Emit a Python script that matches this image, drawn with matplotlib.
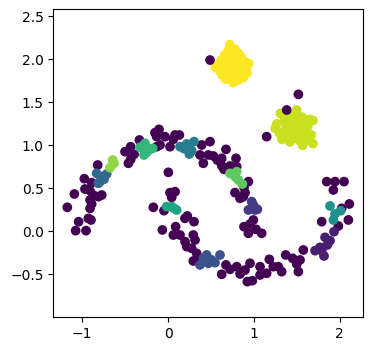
"""
Scatter of clustered moons + blobs (label -1 = noise), coloured with viridis.
Output: out.png
"""

import matplotlib
matplotlib.use("Agg")
import matplotlib.pyplot as plt
import numpy as np

# ── noise points along the moons (label -1) ──────────────────────────────────
noise_x = [
    -1.174, -1.092, -1.042, -1.077, -0.956, -0.929, -0.898, -0.909, -0.890, -0.909,
    -0.968, -0.976, -0.890, -0.909, -0.871, -0.812, -0.773, -0.820,
    -0.501, -0.462, -0.435, -0.396, -0.435, -0.334, -0.152, -0.105, -0.132, -0.093,
    -0.132, -0.035, 0.023, 0.082, 0.132, 0.062,
    0.393, 0.490, 0.373, 0.412, 0.470, 0.529, 0.575, 0.626, 0.676, 0.626,
    0.653, 0.723, 0.793, 0.801, 0.937, 0.886, 0.898, 0.781, 0.840, 0.878,
    0.995, 0.956, 0.886, 0.937, 1.092, 1.026,
    0.004, 0.023, 0.082, 0.043, -0.171, -0.047, -0.066, 0.089, 0.062, 0.140,
    0.198, 0.225, 0.303, 0.295, 0.315, 0.218, 0.276, 0.198, 0.334, 0.295, 0.354,
    0.626, 0.676, 0.723, 0.801, 0.840, 0.898, 0.956, 0.925, 0.983, 1.073,
    1.073, 1.150, 1.181, 1.228, 1.286, 1.325, 1.372, 1.454, 1.539, 1.520,
    1.578, 1.500,
    1.792, 1.850, 1.947, 2.052, 1.928, 2.025, 2.114, 2.103, 1.986,
]
noise_y = [
    0.279, 0.434, 0.112, 0.008, 0.008, 0.151, 0.132, 0.267, 0.318, 0.364,
    0.492, 0.612, 0.566, 0.473, 0.422, 0.403, 0.422, 0.771,
    0.926, 0.791, 0.837, 0.895, 0.984, 1.062, 1.147, 1.186, 1.101, 1.004,
    0.984, 1.101, 0.984, 1.120, 1.120, 1.070,
    1.004, 1.043, 0.888, 0.791, 0.888, 0.876, 0.829, 0.849, 0.953, 0.764,
    0.721, 0.760, 0.849, 0.752, 0.578, 0.512, 0.450, 0.450, 0.384, 0.403,
    0.132, 0.085, 0.054, -0.023, -0.023, 0.023,
    0.686, 0.450, 0.461, 0.395, 0.279, 0.240, 0.016, 0.054, -0.043, -0.043,
    0.151, 0.178, 0.112, -0.043, -0.101, -0.178, -0.198, -0.120, -0.256, -0.345, -0.314,
    -0.500, -0.391, -0.442, -0.411, -0.496, -0.450, -0.372, -0.585, -0.574, -0.411,
    -0.508, -0.488, -0.326, -0.411, -0.411, -0.469, -0.275, -0.314, -0.333, -0.469,
    -0.217, -0.380,
    0.112, 0.578, 0.578, 0.578, 0.481, 0.267, 0.318, 0.132, 0.062,
]

# noise points near the blobs (also label -1)
outlier_x = [0.490, 1.520, 1.384, 1.150]
outlier_y = [1.992, 1.593, 1.411, 1.101]

# ── clusters along the moons ─────────────────────────────────────────────────
c0_x = [1.714, 1.772, 1.819, 1.831, 1.889, 1.935, 1.858, 1.792]
c0_y = [-0.225, -0.186, -0.287, -0.070, -0.109, -0.004, -0.159, -0.225]
c1_x = [0.976, 0.937, 1.015, 0.995, 1.042]
c1_y = [0.345, 0.248, 0.248, 0.306, 0.256]
c2_x = [0.373, 0.451, 0.509, 0.548, 0.606, 0.470, 0.412]
c2_y = [-0.391, -0.275, -0.333, -0.364, -0.275, -0.372, -0.314]
c3_x = [-0.832, -0.773, -0.715, -0.793, -0.746, -0.812]
c3_y = [0.674, 0.636, 0.667, 0.578, 0.605, 0.558]
c4_x = [0.140, 0.218, 0.303, 0.249, 0.187, 0.276]
c4_y = [0.984, 1.016, 1.043, 0.899, 0.961, 0.938]
c5_x = [1.889, 1.947, 2.013, 1.928]
c5_y = [0.295, 0.202, 0.240, 0.132]
c6_x = [-0.016, 0.043, 0.101, 0.070]
c6_y = [0.287, 0.287, 0.248, 0.267]
c7_x = [-0.326, -0.268, -0.249, -0.280, -0.210, -0.179]
c7_y = [0.977, 1.023, 0.919, 0.888, 0.953, 0.965]
c8_x = [0.723, 0.801, 0.820, 0.867, 0.781]
c8_y = [0.674, 0.694, 0.597, 0.550, 0.636]
c9_x = [-0.645, -0.630, -0.676]
c9_y = [0.829, 0.791, 0.740]

# ── blobs ────────────────────────────────────────────────────────────────────
c10_x = [1.31, 1.50, 1.42, 1.56, 1.65, 1.69, 1.25, 1.27, 1.30, 1.33,
         1.38, 1.40, 1.44, 1.45, 1.47, 1.50, 1.52, 1.54, 1.55, 1.58,
         1.60, 1.63, 1.67, 1.69, 1.36, 1.42, 1.35, 1.48, 1.62, 1.57]
c10_y = [1.37, 1.41, 1.35, 1.33, 1.30, 1.29, 1.20, 1.25, 1.14, 1.07,
         1.22, 1.12, 1.28, 1.18, 1.08, 1.22, 1.14, 1.05, 1.26, 1.18,
         1.10, 1.22, 1.12, 1.02, 1.30, 1.04, 1.16, 1.31, 1.06, 1.00]
c11_x = [0.72, 0.70, 0.78, 0.82, 0.66, 0.74, 0.86, 0.62, 0.69, 0.78,
         0.90, 0.94, 0.58, 0.55, 0.65, 0.72, 0.80, 0.87, 0.60, 0.68,
         0.76, 0.84, 0.91, 0.63, 0.71, 0.79, 0.88, 0.92, 0.67, 0.76,
         0.82, 0.74, 0.85]
c11_y = [2.17, 2.10, 2.12, 2.07, 2.05, 2.05, 2.01, 1.99, 1.98, 1.99,
         1.97, 1.95, 1.93, 1.91, 1.92, 1.92, 1.93, 1.91, 1.87, 1.86,
         1.87, 1.86, 1.88, 1.82, 1.81, 1.80, 1.79, 1.84, 1.77, 1.73,
         1.76, 1.77, 2.03]

groups = [
    (-1, noise_x, noise_y),
    (0, c0_x, c0_y), (1, c1_x, c1_y), (2, c2_x, c2_y), (3, c3_x, c3_y),
    (4, c4_x, c4_y), (5, c5_x, c5_y), (6, c6_x, c6_y), (7, c7_x, c7_y),
    (8, c8_x, c8_y), (9, c9_x, c9_y), (10, c10_x, c10_y), (11, c11_x, c11_y),
    (-1, outlier_x, outlier_y),
]

xs, ys, labels = [], [], []
for lab, gx, gy in groups:
    xs += gx
    ys += gy
    labels += [lab] * len(gx)

fig = plt.figure(figsize=(3.73, 3.51), dpi=100)
ax = fig.add_axes([0.143, 0.096, 0.831, 0.877])
ax.scatter(np.array(xs), np.array(ys), c=np.array(labels), cmap="viridis")
ax.set_xlim(-1.337, 2.277)
ax.set_ylim(-1.0, 2.58)
ax.set_xticks([-1, 0, 1, 2])
ax.set_yticks([-0.5, 0.0, 0.5, 1.0, 1.5, 2.0, 2.5])

fig.savefig("out.png", dpi=100)
